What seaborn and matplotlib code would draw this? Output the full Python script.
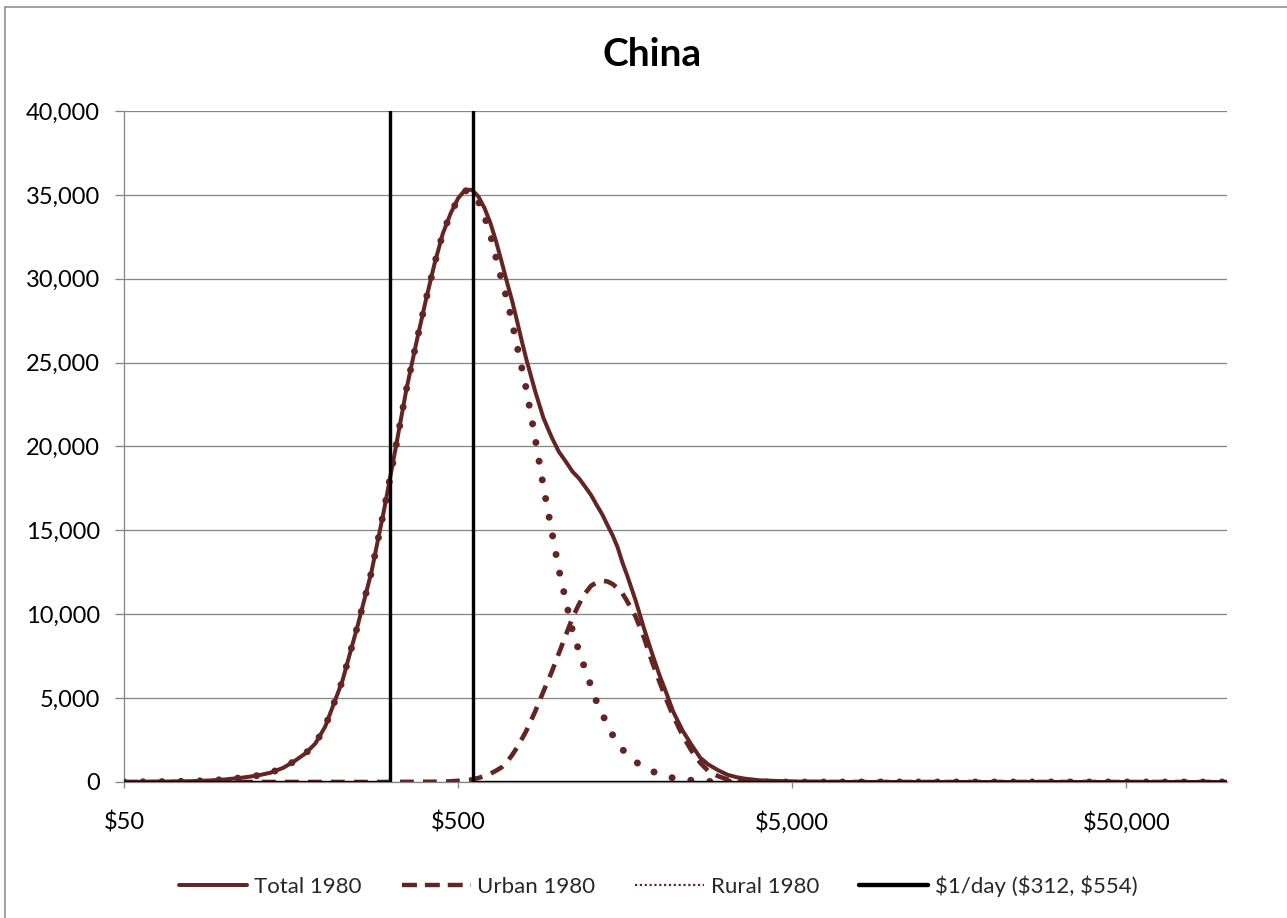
import numpy as np
import pandas as pd
import matplotlib
matplotlib.use("Agg")
import matplotlib.pyplot as plt
from matplotlib.lines import Line2D
from matplotlib.ticker import FixedLocator, FuncFormatter, NullLocator
import seaborn as sns

# ---------------- data ----------------
income = [50, 60, 70, 80, 90, 100, 112, 125, 137, 150, 162, 175, 187, 200, 225, 250,
          275, 300, 325, 350, 375, 400, 425, 450, 475, 500, 525, 550, 575, 600, 625,
          650, 675, 700, 725, 750, 775, 800, 850, 900, 950, 1000, 1050, 1100, 1150,
          1200, 1250, 1300, 1350, 1400, 1450, 1500, 1550, 1600, 1700, 1800, 1900,
          2000, 2100, 2200, 2350, 2500, 2650, 2800, 3000, 3200, 3400, 3600, 4000,
          5000, 7000, 10000, 20000, 50000, 100000]
total_1980 = [5, 15, 30, 50, 90, 150, 250, 380, 550, 850, 1250, 1720, 2300, 3300, 6000,
              9300, 12500, 16200, 19900, 23400, 26200, 28700, 30900, 32700, 33900, 34800,
              35300, 35300, 34900, 34200, 33300, 32200, 31000, 29800, 28700, 27500,
              26300, 25200, 23300, 21700, 20600, 19700, 19100, 18500, 18100, 17600,
              17100, 16500, 15950, 15300, 14700, 14000, 13100, 12350, 10800, 9150, 7700,
              6400, 5300, 4200, 3050, 2200, 1450, 1050, 700, 430, 290, 200, 100,
              30, 5, 0, 0, 0, 0]
urban_1980 = [0, 0, 0, 0, 0, 0, 0, 0, 0, 0, 0, 0, 0, 0, 0, 0,
              0, 0, 5, 8, 10, 12, 15, 20, 40, 70, 100, 150, 240, 360, 500,
              680, 880, 1200, 1600, 2050, 2550, 3050, 4200, 5400, 6500, 7650, 8750,
              9800, 10600, 11250, 11700, 11900, 12000, 11950, 11800, 11550, 11250,
              10800, 9850, 8600, 7200, 6000, 4900, 3950, 2750, 1850, 1150, 660, 350,
              150, 60, 30, 10, 0, 0, 0, 0, 0, 0]
rural_1980 = [5, 15, 30, 50, 90, 150, 250, 380, 550, 850, 1250, 1720, 2300, 3300, 6000,
              9300, 12500, 16200, 19900, 23400, 26200, 28700, 30900, 32700, 33900, 34750,
              35250, 35150, 34600, 33700, 32600, 31200, 29900, 28800, 27400, 26000,
              24700, 23400, 20500, 17600, 15100, 12700, 10800, 9000, 7800, 6700, 5700,
              4750, 4050, 3400, 2800, 2300, 1950, 1650, 1200, 870, 650, 470, 340, 240,
              160, 100, 60, 35, 15, 5, 0, 0, 0, 0, 0, 0, 0, 0, 0]
poverty_left_x = [50, 312, 312]
poverty_left_y = [0, 0, 40000]
poverty_right_x = [554, 554, 100000]
poverty_right_y = [40000, 0, 0]

x_ticks = [50, 500, 5000, 50000]
x_tick_labels = ["$50", "$500", "$5,000", "$50,000"]
y_ticks = [0, 5000, 10000, 15000, 20000, 25000, 30000, 35000, 40000]

# ---------------- style ----------------
sns.set_theme(style="white")
plt.rcParams["font.family"] = ["Lato", "DejaVu Sans"]

W, H = 1287, 918
fig = plt.figure(figsize=(W / 100, H / 100), dpi=100)
ax = fig.add_axes([124 / W, 1 - 782 / H, (1227 - 124) / W, (782 - 111) / H])

maroon = "#632523"
grid_c = "#868686"
px = 72 / 100  # points per pixel

df = pd.DataFrame({"income": income, "Total": total_1980,
                   "Urban": urban_1980, "Rural": rural_1980})

sns.lineplot(data=df, x="income", y="Total", ax=ax, color=maroon,
             lw=4.0 * px, estimator=None, sort=False, zorder=3)
sns.lineplot(data=df, x="income", y="Urban", ax=ax, color=maroon,
             lw=4.6 * px, estimator=None, sort=False, zorder=3)
ax.lines[-1].set_linestyle((0, (3.0, 2.0)))
sns.lineplot(data=df, x="income", y="Rural", ax=ax, color=maroon,
             lw=7.0 * px, estimator=None, sort=False, zorder=3)
ax.lines[-1].set_linestyle((0, (0.01, 2.7)))
ax.lines[-1].set_dash_capstyle("round")

sns.lineplot(x=poverty_left_x, y=poverty_left_y, ax=ax, color="black",
             lw=3.4 * px, estimator=None, sort=False, zorder=4)
sns.lineplot(x=poverty_right_x, y=poverty_right_y, ax=ax, color="black",
             lw=3.4 * px, estimator=None, sort=False, zorder=4)

ax.set_xscale("log")
ax.set_xlim(50, 100000)
ax.set_ylim(0, 40000)
ax.xaxis.set_major_locator(FixedLocator(x_ticks))
ax.xaxis.set_minor_locator(NullLocator())
ax.set_xticklabels(x_tick_labels)
ax.yaxis.set_major_locator(FixedLocator(y_ticks))
ax.yaxis.set_major_formatter(FuncFormatter(lambda v, p: f"{int(v):,}"))
ax.set_xlabel("")
ax.set_ylabel("")

ax.grid(axis="y", color=grid_c, lw=1.3 * px)
ax.grid(axis="x", visible=False)
ax.set_axisbelow(True)
for s in ["top", "right"]:
    ax.spines[s].set_visible(False)
for s in ["left", "bottom"]:
    ax.spines[s].set_color(grid_c)
    ax.spines[s].set_linewidth(1.3 * px)

ax.tick_params(axis="y", which="major", direction="out", length=9 * px,
               width=1.3 * px, color=grid_c, pad=15 * px, labelsize=17,
               labelcolor="black", left=True)
ax.tick_params(axis="x", which="major", direction="out", length=6 * px,
               width=1.3 * px, color=grid_c, pad=23 * px, labelsize=17,
               labelcolor="black", bottom=True)

# title
fig.text(652 / W, 1 - 55 / H, "China", ha="center", va="center",
         fontsize=28, fontweight="bold", color="black")

# legend
handles = [
    Line2D([], [], color=maroon, lw=4.0 * px),
    Line2D([], [], color=maroon, lw=4.4 * px, linestyle=(0, (3.4, 1.8))),
    Line2D([], [], color=maroon, lw=2.2 * px, linestyle=(0, (1, 1.2))),
    Line2D([], [], color="black", lw=4.4 * px),
]
labels = ["Total 1980", "Urban 1980", "Rural 1980", "$1/day ($312, $554)"]
fig.legend(handles, labels, loc="center", bbox_to_anchor=(658 / W, 1 - 886 / H),
           ncol=4, frameon=False, fontsize=16, handlelength=3.1,
           handletextpad=0.3, columnspacing=1.8, borderpad=0)

# outer chart border (left & top visible)
fig.add_artist(Line2D([4.5 / W, 4.5 / W], [0, 1 - 6.5 / H], transform=fig.transFigure,
                      color=grid_c, lw=1.5 * px))
fig.add_artist(Line2D([4.5 / W, 1], [1 - 6.5 / H, 1 - 6.5 / H], transform=fig.transFigure,
                      color=grid_c, lw=1.5 * px))

fig.savefig("out.png", dpi=100)
